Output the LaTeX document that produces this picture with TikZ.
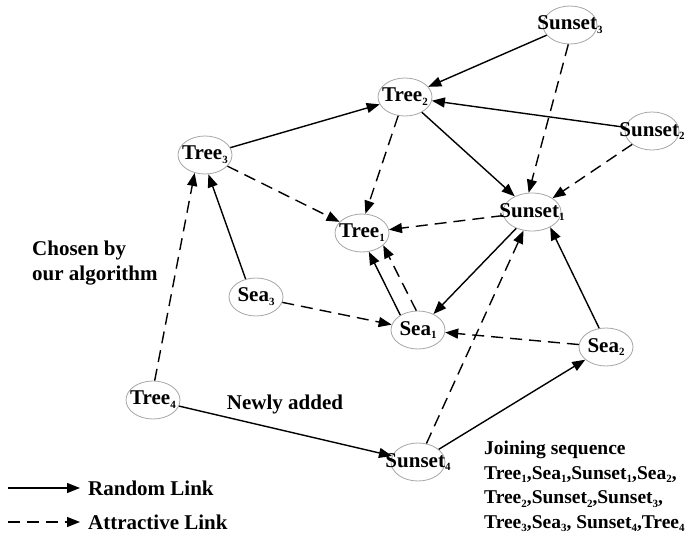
\documentclass[tikz,border=0pt]{standalone}
\usepackage{fontspec}
\setmainfont{Liberation Serif}
\usepackage{tikz}
\usetikzlibrary{arrows.meta,shapes.geometric}
\newcommand{\ix}[1]{\raisebox{-0.4ex}{\fontsize{11}{11}\selectfont #1}}

\begin{document}
\begin{tikzpicture}[x=1pt,y=-1pt,
  font=\bfseries\fontsize{21}{24.5}\selectfont,
  spot/.style={ellipse,draw=black!35,line width=0.8pt,minimum width=54pt,minimum height=38pt,inner sep=0pt},
  rnd/.style={line width=1.4pt,-{Triangle[length=13pt,width=10pt]}},
  att/.style={rnd,dash pattern=on 12pt off 7pt}]
\useasboundingbox (0,0) rectangle (691,538);

\node[spot] (sun3) at (570,25) {\makebox[0pt]{Sunset\ix3}};
\node[spot] (tree2) at (405,97) {\makebox[0pt]{Tree\ix2}};
\node[spot] (sun2) at (652,131) {\makebox[0pt]{Sunset\ix2}};
\node[spot,minimum width=58pt] (sun1) at (532,212) {\makebox[0pt]{Sunset\ix1}};
\node[spot] (tree1) at (362,233) {\makebox[0pt]{Tree\ix1}};
\node[spot] (tree3) at (205,155) {\makebox[0pt]{Tree\ix3}};
\node[spot] (sea3) at (256,297) {\makebox[0pt]{Sea\ix3}};
\node[spot] (sea1) at (418,330) {\makebox[0pt]{Sea\ix1}};
\node[spot] (sea2) at (606,347) {\makebox[0pt]{Sea\ix2}};
\node[spot] (tree4) at (153,400) {\makebox[0pt]{Tree\ix4}};
\node[spot] (sun4) at (418,462) {\makebox[0pt]{Sunset\ix4}};

\draw[rnd] (sun3) -- (tree2);
\draw[rnd] (tree3) -- (tree2);
\draw[rnd] (sun2) -- (tree2);
\draw[rnd] (tree2) -- (sun1);
\draw[rnd] (sun1) -- (sea1);
\draw[rnd] (sea2.110) -- (sun1.-40);
\draw[rnd] (sea1.140) -- (tree1.-70);
\draw[rnd] (sea3.120) -- (tree3.-80);
\draw[rnd] (tree4) -- (sun4);
\draw[rnd] (sun4) -- (sea2);

\draw[att] (sun3.-95) -- (sun1.100);
\draw[att] (sun2) -- (sun1);
\draw[att] (tree2.-110) -- (tree1.80);
\draw[att] (sun1) -- (tree1);
\draw[att] (tree3) -- (tree1);
\draw[att] (sea1.95) -- (tree1.-30);
\draw[att] (sea3) -- (sea1);
\draw[att] (sea2) -- (sea1);
\draw[att] (sun4) -- (sun1);
\draw[att] (tree4.85) -- (tree3.-120);

\node[anchor=west,align=left,inner sep=0pt] (chosen) at (32,263) {Chosen by\\our algorithm};
\node[inner sep=0pt] (added) at (285,404) {Newly added};
\node[anchor=north west,align=left,inner sep=0pt,font=\bfseries\fontsize{19.5}{24.5}\selectfont] (seq) at (484,441)
  {Joining sequence\\
   Tree\ix1,Sea\ix1,Sunset\ix1,Sea\ix2,\\
   Tree\ix2,Sunset\ix2,Sunset\ix3,\\
   Tree\ix3,Sea\ix3, Sunset\ix4,Tree\ix4};

\coordinate (r0) at (8,488);
\coordinate (r1) at (80,488);
\coordinate (a0) at (8,522);
\coordinate (a1) at (80,522);
\draw[rnd] (r0) -- (r1);
\draw[att] (a0) -- (a1);
\node[anchor=west,inner sep=0pt] (rlink) at (88,488) {Random Link};
\node[anchor=west,inner sep=0pt] (alink) at (88,522) {Attractive Link};
\end{tikzpicture}
\end{document}
